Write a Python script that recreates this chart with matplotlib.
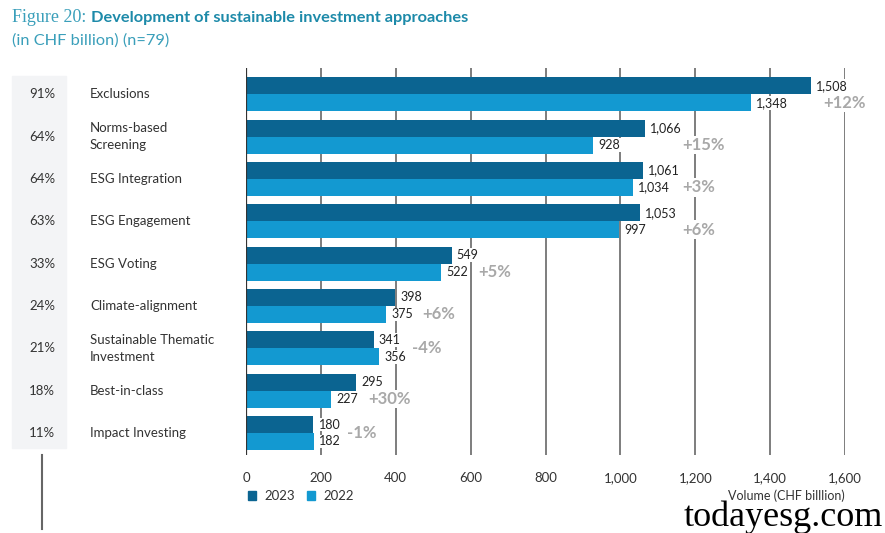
import matplotlib
matplotlib.use("Agg")
import matplotlib.pyplot as plt
from matplotlib.patches import Rectangle, Patch
from matplotlib.lines import Line2D

plt.rcParams['font.family'] = ['Lato', 'DejaVu Sans']

categories = ["Exclusions", "Norms-based\nScreening", "ESG Integration", "ESG Engagement",
              "ESG Voting", "Climate-alignment", "Sustainable Thematic\nInvestment",
              "Best-in-class", "Impact Investing"]
shares = ["91%", "64%", "64%", "63%", "33%", "24%", "21%", "18%", "11%"]
vol_2023 = [1508, 1066, 1061, 1053, 549, 398, 341, 295, 180]
vol_2022 = [1348, 928, 1034, 997, 522, 375, 356, 227, 182]
changes = ["+12%", "+15%", "+3%", "+6%", "+5%", "+6%", "-4%", "+30%", "-1%"]
change_x = [1541, 1165, 1165, 1165, 620, 470, 443, 326, 270]
change_dy = [0.2, 0.2, 0.2, 0.2, 0.2, 0.2, 0.0, 0.2, 0.0]
xticks = [0, 200, 400, 600, 800, 1000, 1200, 1400, 1600]

C23 = "#0b6491"
C22 = "#1399d1"
TEAL = "#3a9fba"
TEAL_B = "#1d8aa9"

W, H = 885, 533
fig = plt.figure(figsize=(W / 100, H / 100), dpi=100)

def fx(px):
    return px / W

def fy(py):
    return 1 - py / H

ax = fig.add_axes([fx(246), fy(455), fx(845) - fx(246), fy(68) - fy(455)])
n = len(categories)
ys = list(range(n))
bh = 0.40

b23 = ax.barh([y - bh / 2 for y in ys], vol_2023, height=bh, color=C23, zorder=2, label="2023")
b22 = ax.barh([y + bh / 2 for y in ys], vol_2022, height=bh, color=C22, zorder=2, label="2022")

for t in xticks[1:]:
    ax.axvline(t, color="#5a5a5a", lw=1.1, zorder=1)
ax.axvline(0, color="#333333", lw=1.6, zorder=3)

box = dict(facecolor="white", edgecolor="none", pad=0.6)
for y, v in zip(ys, vol_2023):
    ax.text(v + 14, y - bh / 2, f"{v:,}", va="center", ha="left", fontsize=9, color="#222222",
            zorder=4, bbox=box)
for y, v in zip(ys, vol_2022):
    ax.text(v + 14, y + bh / 2, f"{v:,}", va="center", ha="left", fontsize=9, color="#222222",
            zorder=4, bbox=box)
for y, c, x, dy in zip(ys, changes, change_x, change_dy):
    ax.text(x, y + dy, c, va="center", ha="left", fontsize=12, fontweight="bold", color="#a8a8a8",
            zorder=4, bbox=dict(facecolor="white", edgecolor="none", pad=1.0))

ax.set_xlim(0, 1600)
ax.set_ylim(8.52, -0.62)
ax.set_xticks(xticks)
ax.set_xticklabels([f"{t:,}" for t in xticks], fontsize=9.5, color="#333333")
ax.tick_params(axis="x", length=0, pad=12)
ax.set_yticks([])
for s in ax.spines.values():
    s.set_visible(False)
ax.patch.set_alpha(0)

# left panel
fig.patches.append(Rectangle((fx(12), fy(448)), fx(66) - fx(12), fy(76) - fy(448),
                             transform=fig.transFigure, color="#f3f4f6", zorder=0))
trans = matplotlib.transforms.blended_transform_factory(fig.transFigure, ax.transData)
for y, c, s in zip(ys, categories, shares):
    fig.text(fx(55), 0, s, transform=trans, ha="right", va="center", fontsize=9.5, color="#333333").set_y(y)
    fig.text(fx(90), 0, c, transform=trans, ha="left", va="center", fontsize=9.5, color="#333333",
             linespacing=1.5).set_y(y)

fig.lines.append(Line2D([fx(42), fx(42)], [fy(455), fy(529)], transform=fig.transFigure,
                        color="#666666", lw=1.5))

# title
t1 = fig.text(fx(12), fy(18), "Figure 20: ", family="Liberation Serif", fontsize=13,
              color=TEAL, va="center", ha="left")
fig.canvas.draw()
bb = t1.get_window_extent()
fig.text(bb.x1 / W, fy(18), "Development of sustainable investment approaches",
         fontsize=11.8, fontweight="bold", color=TEAL_B, va="center", ha="left")
fig.text(fx(12), fy(41), "(in CHF billion) (n=79)", fontsize=11.8, color=TEAL, va="center", ha="left")

# legend
fig.legend(handles=[Patch(color=C23, label="2023"), Patch(color=C22, label="2022")],
           loc="center left", bbox_to_anchor=(fx(236), fy(496)), ncol=2, frameon=False,
           handlelength=0.65, handleheight=0.65, handletextpad=0.6, columnspacing=0.9,
           fontsize=9.5, labelcolor="#333333")

fig.text(fx(845), fy(496), "Volume (CHF billlion)", ha="right", va="center", fontsize=9, color="#333333")

fig.text(fx(883), fy(517), "todayesg.com", family="Liberation Serif", fontsize=26,
         ha="right", va="center", color="#000000")

fig.savefig("out.png", dpi=100)
